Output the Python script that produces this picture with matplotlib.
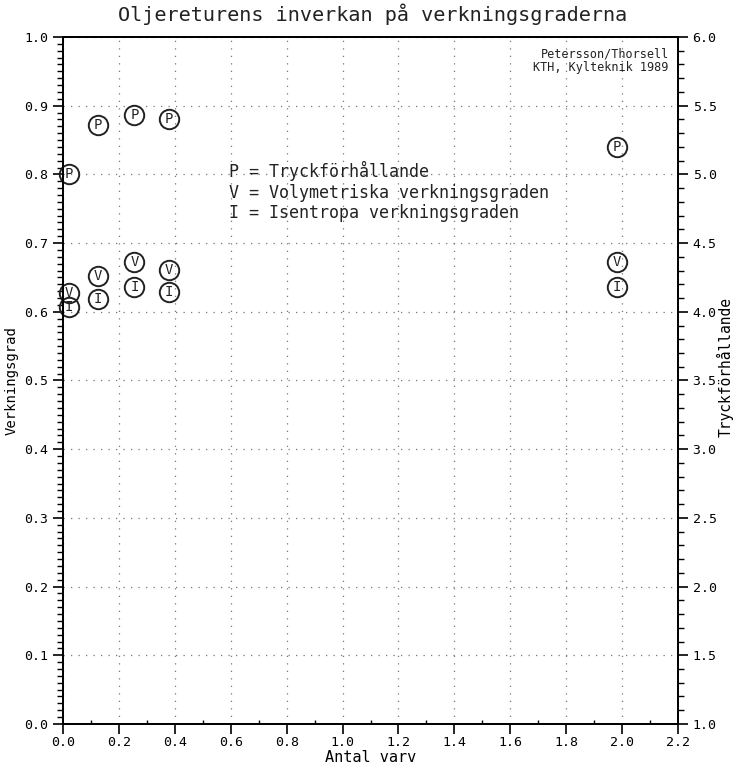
import matplotlib.pyplot as plt
from matplotlib.ticker import MultipleLocator

plt.rcParams['font.family'] = ['DejaVu Sans Mono']

# Antal varv for each measurement
varv = [0.02, 0.125, 0.255, 0.38, 1.98]

# Tryckförhållande (right axis)
tryck = [5.0, 5.36, 5.43, 5.40, 5.20]
# Volymetriska verkningsgraden (left axis)
vol = [0.627, 0.652, 0.672, 0.661, 0.672]
# Isentropa verkningsgraden (left axis)
isen = [0.607, 0.618, 0.636, 0.629, 0.636]

fig = plt.figure(figsize=(7.33, 7.71), dpi=100)
ax = fig.add_axes([0.086, 0.061, 0.839, 0.891])
ax2 = ax.twinx()

ax.set_xlim(0, 2.2)
ax.set_ylim(0, 1.0)
ax2.set_ylim(1.0, 6.0)

ax.xaxis.set_major_locator(MultipleLocator(0.2))
ax.xaxis.set_minor_locator(MultipleLocator(0.1))
ax.yaxis.set_major_locator(MultipleLocator(0.1))
ax.yaxis.set_minor_locator(MultipleLocator(0.01))
ax2.yaxis.set_major_locator(MultipleLocator(0.5))
ax2.yaxis.set_minor_locator(MultipleLocator(0.1))

ax.xaxis.set_major_formatter(lambda v, p: f"{v:.1f}")
ax.yaxis.set_major_formatter(lambda v, p: f"{v:.1f}")
ax2.yaxis.set_major_formatter(lambda v, p: f"{v:.1f}")

ax.grid(True, which='major', linestyle=(0, (1, 5)), color='#777777', linewidth=0.9)

for a in (ax, ax2):
    for s in a.spines.values():
        s.set_linewidth(1.3)
ax.tick_params(axis='both', which='major', labelsize=9.5, length=7, width=1.2, direction='out')
ax.tick_params(axis='x', which='major', pad=2)
ax.tick_params(axis='y', which='minor', length=4, width=1.0, direction='out')
ax.tick_params(axis='x', which='minor', length=3, width=1.0, direction='in')
ax2.tick_params(axis='y', which='major', labelsize=9.5, length=7, width=1.2, direction='out')
ax2.tick_params(axis='y', which='minor', length=4, width=1.0, direction='out')

mk = dict(marker='o', markersize=14, markerfacecolor='none', markeredgecolor='#222222',
          markeredgewidth=1.4, linestyle='none', clip_on=False)

ax2.plot(varv, tryck, **mk)
ax.plot(varv, vol, **mk)
ax.plot(varv, isen, **mk)

for x, y in zip(varv, tryck):
    ax2.text(x, y, 'P', ha='center', va='center', fontsize=10, color='#222222')
for x, y in zip(varv, vol):
    ax.text(x, y, 'V', ha='center', va='center', fontsize=10, color='#222222')
for x, y in zip(varv, isen):
    ax.text(x, y, 'I', ha='center', va='center', fontsize=10, color='#222222')

ax.text(0.595, 0.775,
        "P = Tryckförhållande\nV = Volymetriska verkningsgraden\nI = Isentropa verkningsgraden",
        fontsize=12, ha='left', va='center', linespacing=1.2, color='#222222')

ax.text(0.985, 0.985, "Petersson/Thorsell\nKTH, Kylteknik 1989", transform=ax.transAxes,
        ha='right', va='top', fontsize=8.5, linespacing=1.1, color='#222222')

fig.text(0.508, 0.982, "Oljereturens inverkan på verkningsgraderna", ha='center', va='center',
         fontsize=14.5, color='#222222')

ax.set_xlabel("Antal varv", fontsize=11)
ax.xaxis.set_label_coords(0.5, -0.038)
ax.set_ylabel("Verkningsgrad", fontsize=10)
ax.yaxis.set_label_coords(-0.072, 0.5)
ax2.set_ylabel("Tryckförhållande", fontsize=10.5, rotation=90)
ax2.yaxis.set_label_coords(1.062, 0.52)

fig.savefig("out.png", dpi=100)
